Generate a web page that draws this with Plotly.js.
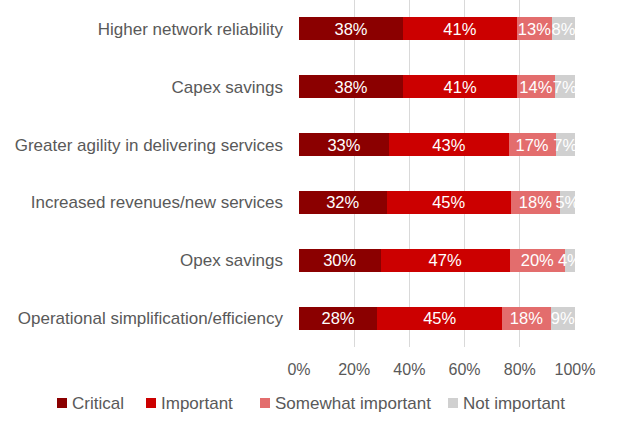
<!DOCTYPE html>
<html>
<head>
<meta charset="utf-8">
<script src="https://cdn.plot.ly/plotly-3.0.1.min.js"></script>
<style>html,body{margin:0;padding:0;background:#fff;}#chart{width:620px;height:435px;}</style>
</head>
<body>
<div id="chart"></div>
<script>
const categories = [
  "Higher network reliability",
  "Capex savings",
  "Greater agility in delivering services",
  "Increased revenues/new services",
  "Opex savings",
  "Operational simplification/efficiency"
];
const critical      = [37.8, 37.8, 32.7, 31.8, 29.6, 28.4];
const important     = [41.1, 41.3, 43.3, 45.0, 46.8, 45.3];
const somewhat      = [12.9, 13.6, 17.0, 17.8, 20.0, 17.5];
const notImportant  = [8.2, 7.3, 7.0, 5.4, 3.6, 8.8];
const seriesNames = ["Critical", "Important", "Somewhat important", "Not important"];
const xTicks = [0, 20, 40, 60, 80, 100];

const colors = ["#8b0000", "#cc0000", "#e36d6d", "#d0d0d0"];
const series = [critical, important, somewhat, notImportant];

// page geometry (pixels)
const W = 620, H = 435, ML = 299, MR = 45, MT = 0, MB = 88;
const PW = W - ML - MR, PH = H - MT - MB;
const legendSquareX = [57, 146, 260, 448];
const legendY = 403, sq = 10;
const px2x = p => (p - ML) / PW;
const px2y = p => (H - MB - p) / PH;

const traces = series.map((vals, i) => ({
  type: "bar",
  orientation: "h",
  name: seriesNames[i],
  y: categories,
  x: vals,
  text: vals.map(v => Math.round(v) + "%"),
  textposition: "inside",
  insidetextanchor: "middle",
  textangle: 0,
  constraintext: "none",
  cliponaxis: false,
  textfont: {family: "Liberation Sans, Arial, sans-serif", size: 16.5, color: "#ffffff"},
  marker: {color: colors[i]},
  showlegend: false,
  hoverinfo: "skip"
}));

const shapes = seriesNames.map((n, i) => ({
  type: "rect", xref: "paper", yref: "paper",
  x0: px2x(legendSquareX[i]), x1: px2x(legendSquareX[i] + sq),
  y0: px2y(legendY + sq / 2), y1: px2y(legendY - sq / 2),
  fillcolor: colors[i], line: {width: 0}
}));

const annotations = seriesNames.map((n, i) => ({
  text: n, xref: "paper", yref: "paper",
  x: px2x(legendSquareX[i] + sq + 3), y: px2y(legendY),
  xanchor: "left", yanchor: "middle", showarrow: false,
  font: {size: 17, color: "#595959"}
}));

const layout = {
  width: W, height: H,
  margin: {l: ML, r: MR, t: MT, b: MB, autoexpand: false},
  barmode: "stack",
  bargap: 0.6,
  paper_bgcolor: "#ffffff",
  plot_bgcolor: "#ffffff",
  font: {family: "Liberation Sans, Arial, sans-serif", size: 17, color: "#595959"},
  xaxis: {
    range: [0, 100.02],
    tickvals: xTicks,
    ticktext: xTicks.map(v => v + "%"),
    tickangle: 0,
    automargin: false,
    showgrid: true,
    gridcolor: "#d9d9d9",
    gridwidth: 1,
    zeroline: false,
    showline: false,
    ticks: "",
    ticklabelstandoff: 11,
    tickfont: {size: 16, color: "#595959"},
    fixedrange: true
  },
  yaxis: {
    autorange: "reversed",
    automargin: false,
    showgrid: false,
    zeroline: false,
    showline: false,
    ticks: "",
    ticklabelstandoff: 15,
    tickfont: {size: 17, color: "#595959"},
    fixedrange: true
  },
  showlegend: false,
  shapes: shapes,
  annotations: annotations
};

Plotly.newPlot("chart", traces, layout, {displayModeBar: false, staticPlot: true});
</script>
</body>
</html>
